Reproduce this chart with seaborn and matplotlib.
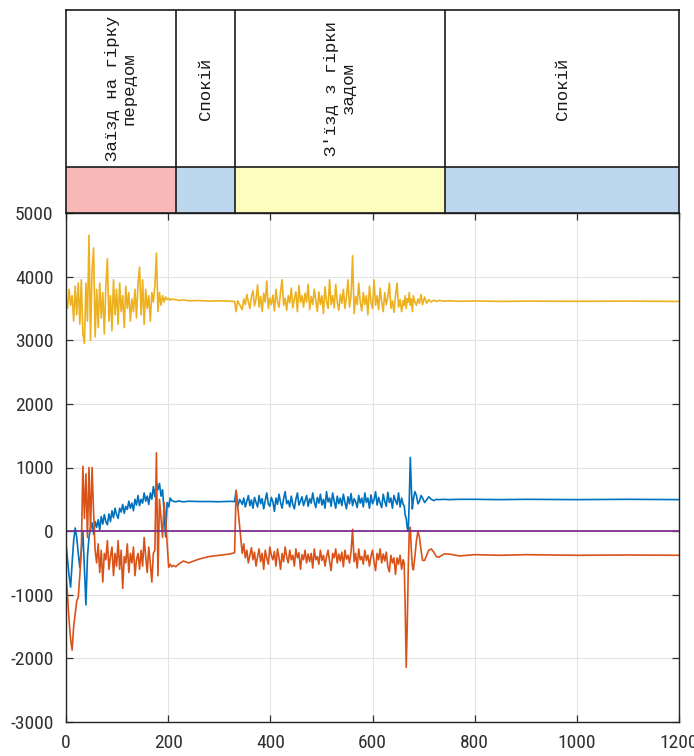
import numpy as np
import pandas as pd
import matplotlib
matplotlib.use("Agg")
import matplotlib.pyplot as plt
from matplotlib import font_manager as fm
import seaborn as sns

# ---------------- data ----------------
phase_edges = [0, 215, 331, 742, 1200]
phase_labels = ["Заїзд на гірку\nпередом", "Спокій", "З'їзд з гірки\nзадом", "Спокій"]
phase_colors = ["#f8b8b8", "#bdd7ee", "#fdfdbd", "#bdd7ee"]

x_ticks = [0, 200, 400, 600, 800, 1000, 1200]
y_ticks = [-3000, -2000, -1000, 0, 1000, 2000, 3000, 4000, 5000]

tA = list(range(0, 211, 3))
tB = [215, 220, 230, 240, 260, 280, 300, 320, 330, 333, 336, 340]
tC = list(range(345, 661, 3))
tD = [662, 664, 666, 668, 670, 672, 674, 676, 678, 680,
      683, 686, 689, 692, 695, 698, 702, 706, 710, 715,
      720, 725, 730, 740, 750, 770, 800, 850, 900, 1000,
      1100, 1200]

yellow_A = [3650, 3500, 3800, 3550, 3700, 3300, 3850, 3400, 3900, 3250,
            3950, 3100, 2950, 3900, 3300, 4650, 3000, 4100, 4450, 3050,
            3800, 3200, 3900, 3350, 3750, 3100, 3850, 4280, 3300, 3700,
            3150, 3950, 3400, 3800, 3250, 3900, 3450, 3700, 3200, 3850,
            3500, 3750, 3300, 3650, 3450, 3800, 3350, 3900, 4150, 3400,
            3950, 3250, 3800, 3500, 3700, 3300, 3750, 3600, 3850, 4370,
            3450, 3750, 3550, 3700, 3600, 3680, 3640, 3660, 3630, 3650,
            3640]
yellow_B = [3640, 3625, 3635, 3620, 3625, 3615, 3620, 3615, 3610, 3450, 3620, 3560]
yellow_C = [3480, 3650, 3560, 3720, 3600, 3500, 3680, 3780, 3540, 3650,
            3870, 3520, 3690, 3450, 3740, 3600, 3930, 3500, 3660, 3560,
            3710, 3460, 3800, 3600, 3520, 3760, 3950, 3550, 3660, 3470,
            3700, 3590, 3820, 3510, 3650, 3760, 3450, 3860, 3600, 3700,
            3520, 3740, 3600, 3880, 3480, 3690, 3560, 3800, 3620, 3450,
            3760, 3560, 3700, 3420, 3840, 3610, 3500, 3950, 3560, 3700,
            3510, 3880, 3600, 3470, 3720, 3580, 3800, 3500, 3680, 3950,
            3520, 3700, 4330, 3420, 3690, 3560, 3900, 3600, 3460, 3750,
            3560, 3700, 3400, 3850, 3600, 3500, 3950, 3550, 3700, 3480,
            3820, 3600, 3450, 3750, 3560, 3680, 3900, 3500, 3620, 3440,
            3700, 3900, 3520, 3640, 3450, 3620]
yellow_D = [3550, 3700, 3500, 3650, 3600, 3750, 3550, 3650, 3450, 3700,
            3600, 3550, 3650, 3580, 3720, 3560, 3680, 3580, 3640, 3600,
            3630, 3610, 3625, 3615, 3620, 3612, 3618, 3610, 3615, 3612,
            3615, 3610]

blue_A = [-200, -450, -700, -880, -500, -150, 50, -100, -350, -570,
          -300, 0, -600, -1160, -400, -100, 50, 130, -50, 150,
          60, 180, 20, 230, 110, 260, 150, 100, 270, 150,
          320, 210, 360, 260, 200, 360, 300, 420, 280, 390,
          340, 470, 360, 440, 320, 500, 410, 560, 400, 500,
          440, 600, 470, 550, 420, 600, 500, 700, 540, 780,
          650, 750, 550, 650, 300, -90, 450, 380, 520, 480,
          470]
blue_B = [460, 475, 460, 470, 465, 465, 462, 468, 465, 640, 380, 500]
blue_C = [420, 520, 380, 470, 560, 400, 490, 360, 530, 450,
          380, 560, 430, 510, 350, 480, 600, 430, 390, 530,
          460, 310, 520, 420, 580, 450, 360, 510, 620, 430,
          480, 380, 550, 420, 350, 500, 600, 410, 470, 540,
          400, 480, 560, 390, 510, 440, 600, 460, 370, 530,
          440, 580, 410, 500, 360, 620, 460, 520, 390, 600,
          470, 360, 550, 430, 520, 400, 580, 450, 350, 540,
          430, 590, 400, 510, 460, 370, 560, 440, 520, 380,
          600, 450, 520, 360, 570, 430, 490, 620, 410, 530,
          440, 370, 580, 470, 390, 610, 450, 520, 360, 560,
          480, 420, 600, 380, 520, 420]
blue_D = [400, 250, 200, 50, 0, 500, 1160, 700, 350, 500,
          620, 560, 430, 470, 560, 520, 450, 490, 540, 500,
          480, 500, 495, 500, 495, 500, 500, 495, 500, 495,
          500, 495]

orange_A = [-700, -1000, -1400, -1700, -1870, -1500, -1300, -1100, -1040, -700,
            -300, 1020, 200, 900, -100, 1000, 0, 1000, 300, -300,
            -500, -200, -650, -300, -800, -350, -450, -150, -600, -400,
            -250, -700, -350, -550, -150, -600, -300, -900, -400, -500,
            -200, -650, -350, -500, -250, -700, -450, -350, -600, -300,
            -550, -100, -400, -650, -250, -500, -800, -350, -300, 1230,
            -700, 500, 200, -100, 450, 200, -200, -570, -520, -560,
            -540]
orange_B = [-560, -520, -470, -500, -440, -400, -380, -360, -340, 640, 400, 60]
orange_C = [-350, -200, -420, -300, -500, -380, -260, -450, -330, -550,
            -400, -280, -480, -350, -600, -300, -420, -520, -250, -380,
            -450, -320, -550, -280, -420, -600, -350, -480, -250, -400,
            -500, -300, -450, -380, -550, -280, -420, -340, -600, -370,
            -450, -300, -500, -360, -480, -350, -580, -280, -450, -400,
            -520, -300, -460, -380, -550, -400, -300, -480, -620, -350,
            -420, -280, -500, -360, -470, -330, -560, -300, -440, -380,
            -500, -320, 30, -480, -350, -580, -280, -450, -400, -520,
            -300, -460, -380, -550, -400, -300, -480, -620, -350, -450,
            -280, -500, -360, -470, -330, -560, -640, -380, -500, -420,
            -680, -420, -520, -380, -600, -450]
orange_D = [-500, -1200, -2140, -1500, -600, 0, 60, -300, -550, -610,
            -400, -150, 0, -100, -300, -460, -460, -380, -300, -280,
            -330, -400, -410, -360, -360, -390, -370, -380, -370, -380,
            -375, -380]

purple_t = [0, 1200]
purple_v = [0, 0]

# ---------------- fonts ----------------
sns.set_theme(style="white")
plt.rcParams["font.family"] = ["Liberation Sans", "DejaVu Sans"]


def _is_regular(f):
    w = f.weight
    return f.style == "normal" and (w in ("normal", "regular", "book", 400))


narrow_file = None
prefs = ["Liberation Sans Narrow", "Arial Narrow", "Noto Sans Condensed",
         "Roboto Condensed", "DejaVu Sans Condensed", "Open Sans Condensed"]
entries = [f for f in fm.fontManager.ttflist if _is_regular(f)]
for p in prefs:
    for f in entries:
        if f.name == p:
            narrow_file = f.fname
            break
    if narrow_file:
        break
if narrow_file is None:
    for fam in ["Noto Sans", "DejaVu Sans", "Roboto", "Open Sans"]:
        for f in entries:
            if f.name == fam and f.stretch in ("condensed", "semi-condensed"):
                narrow_file = f.fname
                break
        if narrow_file:
            break
if narrow_file is not None:
    tick_fp = fm.FontProperties(fname=narrow_file, size=14)
else:
    tick_fp = fm.FontProperties(family="Liberation Sans", size=13.5)

# ---------------- plotting ----------------
t_all = tA + tB + tC + tD
series = [
    (blue_A + blue_B + blue_C + blue_D, "#0072BD"),
    (orange_A + orange_B + orange_C + orange_D, "#D95319"),
    (yellow_A + yellow_B + yellow_C + yellow_D, "#EDB120"),
]

W, H = 694, 756
fig = plt.figure(figsize=(W / 100, H / 100), dpi=100)
left, right = 66 / W, 679 / W
tab_top, tab_bot = 1 - 10 / H, 1 - 213 / H
ax_bot = 1 - 722 / H

ax = fig.add_axes([left, ax_bot, right - left, tab_bot - ax_bot])
ax_tab = fig.add_axes([left, tab_bot, right - left, tab_top - tab_bot])

for vals, col in series:
    df = pd.DataFrame({"t": t_all, "v": vals})
    sns.lineplot(data=df, x="t", y="v", ax=ax, color=col, lw=1.2,
                 estimator=None, sort=False)
sns.lineplot(x=purple_t, y=purple_v, ax=ax, color="#7E2F8E", lw=1.3, estimator=None)

ax.set_xlim(0, 1200)
ax.set_ylim(-3000, 5000)
ax.set_xticks(x_ticks)
ax.set_yticks(y_ticks)
ax.set_xticklabels([str(v) for v in x_ticks])
ax.set_yticklabels([str(v) for v in y_ticks])
for lbl in ax.get_xticklabels() + ax.get_yticklabels():
    lbl.set_fontproperties(tick_fp)
ax.set_xlabel("")
ax.set_ylabel("")
ax.grid(True, color="#e3e3e3", lw=0.8)
ax.set_axisbelow(True)
ax.tick_params(axis="both", direction="in", length=5, width=0.9, colors="#303030",
               top=True, right=True, bottom=True, left=True)
ax.tick_params(axis="x", pad=9)
ax.tick_params(axis="y", pad=9)
for s in ax.spines.values():
    s.set_color("#262626")
    s.set_linewidth(1.0)

# phase table
color_row = (213 - 167) / (213 - 10)
ax_tab.set_xlim(0, 1200)
ax_tab.set_ylim(0, 1)
for i in range(len(phase_labels)):
    x0, x1 = phase_edges[i], phase_edges[i + 1]
    ax_tab.axvspan(x0, x1, ymin=0, ymax=color_row, color=phase_colors[i], lw=0)
    ax_tab.text((x0 + x1) / 2, color_row + (1 - color_row) * 0.5, phase_labels[i],
                rotation=90, ha="center", va="center", multialignment="center",
                family=["Liberation Mono", "DejaVu Sans Mono"], fontsize=12.5,
                color="#1a1a1a", linespacing=1.15)
for xe in phase_edges[1:-1]:
    ax_tab.axvline(xe, color="#1a1a1a", lw=1.2)
ax_tab.axhline(color_row, color="#1a1a1a", lw=1.2)
ax_tab.set_xticks([])
ax_tab.set_yticks([])
for s in ax_tab.spines.values():
    s.set_color("#1a1a1a")
    s.set_linewidth(1.2)

fig.savefig("out.png", dpi=100)
